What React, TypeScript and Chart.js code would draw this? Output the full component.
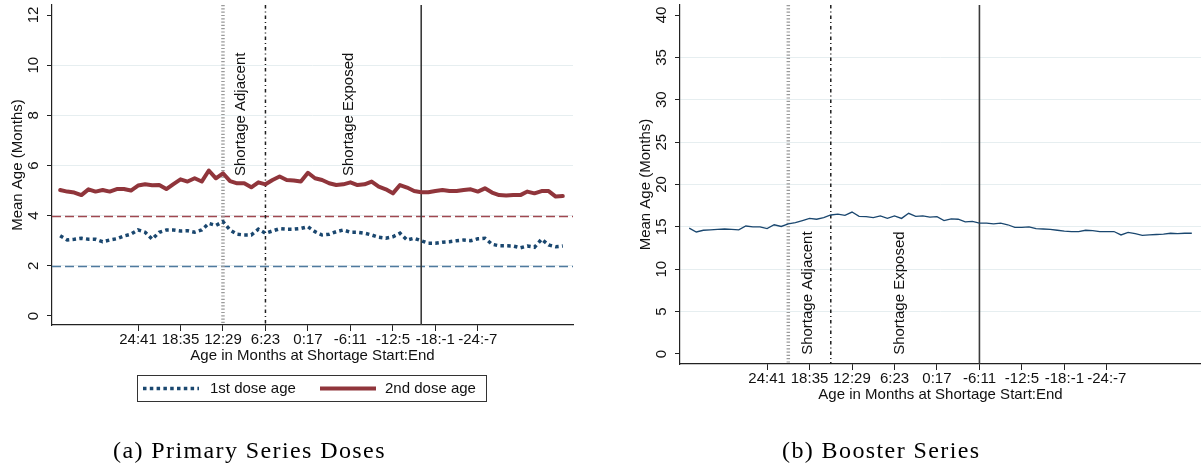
import React, { useEffect, useRef } from "react";
import { Chart, registerables } from "chart.js";

Chart.register(...registerables);

// Birth cohorts, labelled by age (months) at shortage start; end age = start + 17
const AGE_AT_START = [
  35, 34, 33, 32, 31, 30, 29, 28, 27, 26, 25, 24, 23, 22, 21, 20, 19, 18,
  17, 16, 15, 14, 13, 12, 11, 10, 9, 8, 7, 6, 5, 4, 3, 2, 1, 0,
  -1, -2, -3, -4, -5, -6, -7, -8, -9, -10, -11, -12, -13, -14, -15, -16, -17, -18,
  -19, -20, -21, -22, -23, -24, -25, -26, -27, -28, -29, -30, -31, -32, -33, -34, -35, -36,
];

// Mean age (months) at 1st primary dose
const FIRST_DOSE_AGE = [
  3.2, 3.03, 3.06, 3.1, 3.06, 3.06, 2.96, 3.03, 3.08, 3.19,
  3.26, 3.43, 3.34, 3.06, 3.34, 3.43, 3.43, 3.39, 3.4, 3.34,
  3.43, 3.69, 3.61, 3.76, 3.43, 3.26, 3.23, 3.23, 3.46, 3.3,
  3.39, 3.48, 3.46, 3.46, 3.49, 3.56, 3.36, 3.23, 3.26, 3.36,
  3.43, 3.34, 3.34, 3.3, 3.23, 3.14, 3.1, 3.16, 3.3, 3.03,
  3.1, 3.0, 2.9, 2.9, 2.94, 2.96, 3.0, 3.03, 3.0, 3.08,
  3.1, 2.86, 2.8, 2.8, 2.79, 2.72, 2.79, 2.74, 3.06, 2.83,
  2.76, 2.79,
];

// Mean age (months) at 2nd primary dose
const SECOND_DOSE_AGE = [
  5.02, 4.96, 4.92, 4.82, 5.05, 4.96, 5.02, 4.96, 5.06, 5.06,
  5.0, 5.2, 5.25, 5.21, 5.22, 5.06, 5.26, 5.45, 5.36, 5.49,
  5.36, 5.8, 5.49, 5.69, 5.38, 5.29, 5.29, 5.13, 5.33, 5.25,
  5.42, 5.56, 5.42, 5.4, 5.36, 5.71, 5.49, 5.42, 5.29, 5.22,
  5.25, 5.33, 5.22, 5.25, 5.36, 5.16, 5.05, 4.89, 5.22, 5.12,
  4.98, 4.93, 4.93, 4.98, 5.02, 4.98, 4.98, 5.02, 5.05, 4.96,
  5.09, 4.92, 4.82, 4.8, 4.82, 4.82, 4.96, 4.89, 4.98, 4.98,
  4.76, 4.78,
];

// Mean age (months) at booster dose
const BOOSTER_AGE = [
  14.85, 14.4, 14.6, 14.65, 14.7, 14.75, 14.7, 14.65, 15.1, 15.0,
  15.0, 14.8, 15.25, 15.05, 15.35, 15.5, 15.75, 16.0, 15.9, 16.1,
  16.4, 16.5, 16.35, 16.75, 16.25, 16.2, 16.1, 16.3, 16.0, 16.3,
  16.0, 16.6, 16.25, 16.3, 16.15, 16.2, 15.75, 15.95, 15.9, 15.6,
  15.65, 15.45, 15.45, 15.35, 15.45, 15.25, 14.95, 14.95, 15.0, 14.8,
  14.75, 14.7, 14.6, 14.5, 14.45, 14.45, 14.6, 14.55, 14.45, 14.45,
  14.45, 14.05, 14.35, 14.2, 14.0, 14.05, 14.1, 14.15, 14.25, 14.2,
  14.25, 14.25,
];

const X_TICK_AGES = [24, 18, 12, 6, 0, -6, -12, -18, -24];
const X_TICK_LABELS = ["24:41", "18:35", "12:29", "6:23", "0:17", "-6:11", "-12:5", "-18:-1", "-24:-7"];

const PRIMARY_Y_TICKS = [0, 2, 4, 6, 8, 10, 12];
const BOOSTER_Y_TICKS = [0, 5, 10, 15, 20, 25, 30, 35, 40];

// Recommended ages for the primary doses (months)
const FIRST_DOSE_TARGET = 2;
const SECOND_DOSE_TARGET = 4;

// Cohort boundaries (age at shortage start): adjacent / exposed start / exposed end
const PRIMARY_BOUNDS = [12, 6, -16];
const BOOSTER_BOUNDS = [21, 15, -6];

const Y_TITLE = "Mean Age (Months)";
const X_TITLE = "Age in Months at Shortage Start:End";
const NOTE_ADJACENT = "Shortage Adjacent";
const NOTE_EXPOSED = "Shortage Exposed";

const NAVY = "#1a476f";
const MAROON = "#90353b";
const SANS = "'Liberation Sans', Arial, sans-serif";
const SERIF = "'Liberation Serif', 'Times New Roman', serif";
const FONT_PX = 15;

Chart.defaults.font.family = SANS;
Chart.defaults.font.size = FONT_PX;
Chart.defaults.color = "#111";

type Area = { left: number; top: number; right: number; bottom: number };
type VLine = { age: number; color: string; width: number; dash: number[] };
type HLine = { value: number; color: string; width: number; dash: number[] };
type Note = { text: string; age: number; value: number };
type LegendItem = { label: string; color: string; width: number; dash: number[]; x1: number; x2: number; tx: number };

type PanelSpec = {
  left: number;
  width: number;
  height: number;
  area: Area;
  xMin: number;
  xMax: number;
  yMin: number;
  yMax: number;
  yTicks: number[];
  datasets: any[];
  hLines: HLine[];
  vLines: VLine[];
  notes: Note[];
  legend: { box: Area; cy: number; items: LegendItem[] } | null;
  caption: string;
  captionX: number;
};

const refLines = (bounds: number[]): VLine[] => [
  { age: bounds[0], color: "#9a9a9a", width: 3.5, dash: [1.2, 2.1] },
  { age: bounds[1], color: "#1e1e1e", width: 1.5, dash: [3.5, 3, 1, 3] },
  { age: bounds[2], color: "#3a3a3a", width: 1.6, dash: [] },
];

const series = (values: number[]) => AGE_AT_START.map((a, i) => ({ x: a, y: values[i] }));

const PRIMARY: PanelSpec = {
  left: 0,
  width: 600,
  height: 468,
  area: { left: 52, top: 5, right: 573, bottom: 325 },
  xMin: -37.44,
  xMax: 36.15,
  yMin: -0.36,
  yMax: 12.4,
  yTicks: PRIMARY_Y_TICKS,
  datasets: [
    {
      label: "1st dose age",
      data: series(FIRST_DOSE_AGE),
      borderColor: NAVY,
      borderWidth: 3.5,
      borderDash: [3.5, 3.3],
      borderCapStyle: "butt",
      pointRadius: 0,
      tension: 0,
    },
    {
      label: "2nd dose age",
      data: series(SECOND_DOSE_AGE),
      borderColor: MAROON,
      borderWidth: 4,
      borderJoinStyle: "round",
      borderCapStyle: "round",
      pointRadius: 0,
      tension: 0,
    },
  ],
  hLines: [
    { value: SECOND_DOSE_TARGET, color: "#a04850", width: 1.3, dash: [9, 4] },
    { value: FIRST_DOSE_TARGET, color: "#4f7a9e", width: 1.3, dash: [9, 4] },
  ],
  vLines: refLines(PRIMARY_BOUNDS),
  notes: [
    { text: NOTE_ADJACENT, age: 9.5, value: 5.58 },
    { text: NOTE_EXPOSED, age: -5.8, value: 5.58 },
  ],
  legend: {
    box: { left: 137.5, top: 375.5, right: 486.5, bottom: 401.5 },
    cy: 388.5,
    items: [
      { label: "1st dose age", color: NAVY, width: 3.5, dash: [3.5, 3.3], x1: 143, x2: 199, tx: 210 },
      { label: "2nd dose age", color: MAROON, width: 4, dash: [], x1: 320, x2: 376, tx: 385 },
    ],
  },
  caption: "(a) Primary Series Doses",
  captionX: 113,
};

const BOOSTER: PanelSpec = {
  left: 600,
  width: 601,
  height: 468,
  area: { left: 80, top: 5, right: 601, bottom: 364 },
  xMin: -37.3,
  xMax: 36.3,
  yMin: -1.18,
  yMax: 41.18,
  yTicks: BOOSTER_Y_TICKS,
  datasets: [
    {
      label: "Booster age",
      data: series(BOOSTER_AGE),
      borderColor: NAVY,
      borderWidth: 1.3,
      pointRadius: 0,
      tension: 0,
    },
  ],
  hLines: [],
  vLines: refLines(BOOSTER_BOUNDS),
  notes: [
    { text: NOTE_ADJACENT, age: 18.2, value: -0.1 },
    { text: NOTE_EXPOSED, age: 5.2, value: -0.1 },
  ],
  legend: null,
  caption: "(b) Booster Series",
  captionX: 182,
};

function makeDecor(spec: PanelSpec) {
  return {
    id: "panelDecor",
    beforeDatasetsDraw(chart: any) {
      const { ctx, chartArea: a, scales } = chart;
      const x = scales.x;
      const y = scales.y;
      ctx.save();
      ctx.lineCap = "butt";
      for (const h of spec.hLines) {
        const py = Math.round(y.getPixelForValue(h.value)) + 0.5;
        ctx.beginPath();
        ctx.setLineDash(h.dash);
        ctx.strokeStyle = h.color;
        ctx.lineWidth = h.width;
        ctx.moveTo(a.left, py);
        ctx.lineTo(a.right, py);
        ctx.stroke();
      }
      for (const v of spec.vLines) {
        const px = x.getPixelForValue(v.age);
        ctx.beginPath();
        ctx.setLineDash(v.dash);
        ctx.strokeStyle = v.color;
        ctx.lineWidth = v.width;
        ctx.moveTo(px, a.top);
        ctx.lineTo(px, a.bottom);
        ctx.stroke();
      }
      ctx.restore();
    },
    afterDraw(chart: any) {
      const { ctx, chartArea: a, scales } = chart;
      const x = scales.x;
      const y = scales.y;
      ctx.save();
      ctx.fillStyle = "#111";
      ctx.font = `${FONT_PX}px ${SANS}`;

      // rotated y tick labels
      ctx.textAlign = "center";
      ctx.textBaseline = "middle";
      for (const v of spec.yTicks) {
        ctx.save();
        ctx.translate(a.left - 18, y.getPixelForValue(v));
        ctx.rotate(-Math.PI / 2);
        ctx.fillText(String(v), 0, 0);
        ctx.restore();
      }

      // axis titles
      ctx.save();
      ctx.translate(a.left - 34, (a.top + a.bottom) / 2);
      ctx.rotate(-Math.PI / 2);
      ctx.fillText(Y_TITLE, 0, 0);
      ctx.restore();
      ctx.fillText(X_TITLE, (a.left + a.right) / 2, a.bottom + 31);

      // vertical notes
      ctx.textAlign = "left";
      for (const n of spec.notes) {
        ctx.save();
        ctx.translate(x.getPixelForValue(n.age), y.getPixelForValue(n.value));
        ctx.rotate(-Math.PI / 2);
        ctx.fillText(n.text, 0, 0);
        ctx.restore();
      }

      // legend
      if (spec.legend) {
        const L = spec.legend;
        ctx.strokeStyle = "#333";
        ctx.lineWidth = 1;
        ctx.setLineDash([]);
        ctx.strokeRect(L.box.left, L.box.top, L.box.right - L.box.left, L.box.bottom - L.box.top);
        for (const it of L.items) {
          ctx.beginPath();
          ctx.setLineDash(it.dash);
          ctx.strokeStyle = it.color;
          ctx.lineWidth = it.width;
          ctx.lineCap = "butt";
          ctx.moveTo(it.x1, L.cy);
          ctx.lineTo(it.x2, L.cy);
          ctx.stroke();
          ctx.setLineDash([]);
          ctx.fillStyle = "#111";
          ctx.textBaseline = "middle";
          ctx.fillText(it.label, it.tx, L.cy);
        }
      }

      // panel caption
      ctx.fillStyle = "#000";
      ctx.font = `24px ${SERIF}`;
      (ctx as any).letterSpacing = "1.4px";
      ctx.textAlign = "left";
      ctx.textBaseline = "alphabetic";
      ctx.fillText(spec.caption, spec.captionX, 458);
      ctx.restore();
    },
  };
}

function buildConfig(spec: PanelSpec): any {
  const firstY = spec.yTicks[0];
  const lastY = spec.yTicks[spec.yTicks.length - 1];
  return {
    type: "line",
    data: { datasets: spec.datasets },
    plugins: [makeDecor(spec)],
    options: {
      responsive: false,
      animation: false,
      devicePixelRatio: 1,
      layout: {
        padding: { left: 0, top: spec.area.top, right: spec.width - spec.area.right, bottom: 0 },
      },
      plugins: { legend: { display: false }, tooltip: { enabled: false }, title: { display: false } },
      scales: {
        x: {
          type: "linear",
          reverse: true,
          min: spec.xMin,
          max: spec.xMax,
          afterBuildTicks: (s: any) => {
            s.ticks = X_TICK_AGES.map((v) => ({ value: v }));
          },
          afterFit: (s: any) => {
            s.height = spec.height - spec.area.bottom;
          },
          ticks: {
            autoSkip: false,
            maxRotation: 0,
            minRotation: 0,
            padding: 0,
            color: "#111",
            font: { size: FONT_PX, family: SANS },
            callback: (v: any) => {
              const i = X_TICK_AGES.indexOf(Number(v));
              return i >= 0 ? X_TICK_LABELS[i] : "";
            },
          },
          grid: { drawOnChartArea: false, drawTicks: true, tickLength: 6, tickColor: "#222", tickWidth: 1 },
          border: { display: true, color: "#222", width: 1.2 },
        },
        y: {
          type: "linear",
          min: spec.yMin,
          max: spec.yMax,
          afterBuildTicks: (s: any) => {
            s.ticks = spec.yTicks.map((v) => ({ value: v }));
          },
          afterFit: (s: any) => {
            s.width = spec.area.left;
          },
          ticks: { display: false },
          grid: {
            drawTicks: true,
            tickLength: 5,
            tickColor: "#222",
            tickWidth: 1,
            lineWidth: 1,
            color: (c: any) =>
              c.tick && (c.tick.value === firstY || c.tick.value === lastY) ? "rgba(0,0,0,0)" : "#e6eef0",
          },
          border: { display: true, color: "#222", width: 1.2 },
        },
      },
    },
  };
}

function Panel({ spec }: { spec: PanelSpec }) {
  const ref = useRef<HTMLCanvasElement>(null);
  useEffect(() => {
    const chart = new Chart(ref.current as HTMLCanvasElement, buildConfig(spec));
    return () => chart.destroy();
  }, [spec]);
  return (
    <canvas
      ref={ref}
      width={spec.width}
      height={spec.height}
      style={{ position: "absolute", left: spec.left, top: 0, width: spec.width, height: spec.height }}
    />
  );
}

export default function App() {
  return (
    <div
      style={{
        position: "fixed",
        left: 0,
        top: 0,
        width: 1201,
        height: 468,
        background: "#fff",
        overflow: "hidden",
      }}
    >
      <Panel spec={PRIMARY} />
      <Panel spec={BOOSTER} />
    </div>
  );
}
